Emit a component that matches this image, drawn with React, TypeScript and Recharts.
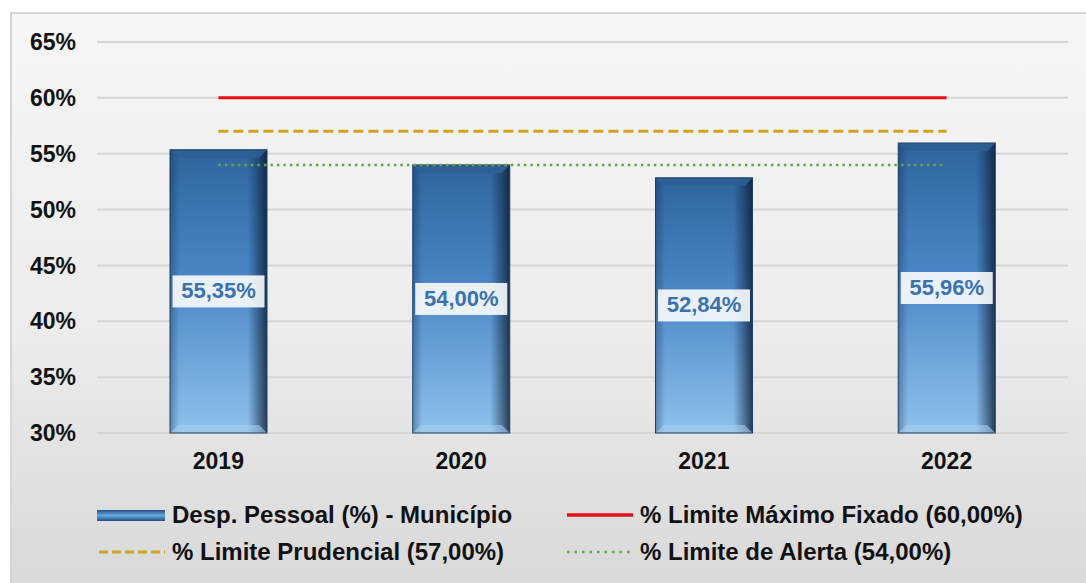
import {
  ComposedChart,
  Bar,
  Line,
  XAxis,
  YAxis,
  CartesianGrid,
  Legend,
  LabelList,
} from "recharts";

const years = ["2019", "2020", "2021", "2022"];
const despPessoal = [55.35, 54.0, 52.84, 55.96];
const limiteMaximo = [60, 60, 60, 60];
const limitePrudencial = [57, 57, 57, 57];
const limiteAlerta = [54, 54, 54, 54];
const yTicks = [30, 35, 40, 45, 50, 55, 60, 65];

const data = years.map((year, i) => ({
  year,
  desp: despPessoal[i],
  maximo: limiteMaximo[i],
  prudencial: limitePrudencial[i],
  alerta: limiteAlerta[i],
}));

const FONT = "Arial, 'Liberation Sans', sans-serif";
const fmt = (v: number) => v.toFixed(2).replace(".", ",") + "%";

const BevelBar = (props: any) => {
  const { x, y, width, height } = props;
  if (!height || height <= 0) return null;
  const b = 8;
  return (
    <g>
      <rect x={x} y={y} width={width} height={height} fill="url(#barVert)" />
      <rect x={x} y={y} width={width} height={height} fill="url(#barHoriz)" />
      <polygon
        points={`${x},${y} ${x + width},${y} ${x + width - b},${y + b} ${x + b},${y + b}`}
        fill="#2d5f94"
        opacity={0.9}
      />
      <polygon
        points={`${x},${y + height} ${x + width},${y + height} ${x + width - b},${y + height - b} ${x + b},${y + height - b}`}
        fill="#a9cdee"
        opacity={0.6}
      />
      <rect x={x} y={y} width={width} height={height} fill="none" stroke="#1d3f63" strokeWidth={1} />
    </g>
  );
};

const ValueLabel = (props: any) => {
  const { x, y, width, height, value } = props;
  const cx = x + width / 2;
  const cy = y + height / 2;
  return (
    <g>
      <rect x={cx - 46} y={cy - 16} width={92} height={32} fill="#ffffff" opacity={0.88} />
      <text
        x={cx}
        y={cy + 1}
        textAnchor="middle"
        dominantBaseline="middle"
        fill="#3b72ad"
        fontSize={22}
        fontWeight="bold"
        fontFamily={FONT}
      >
        {fmt(value)}
      </text>
    </g>
  );
};

const legendItems = [
  { label: "Desp. Pessoal (%) - Município", kind: "bar" },
  { label: "% Limite Máximo Fixado (60,00%)", kind: "solid" },
  { label: "% Limite Prudencial (57,00%)", kind: "dashed" },
  { label: "% Limite de Alerta (54,00%)", kind: "dotted" },
];

const LegendIcon = ({ kind }: { kind: string }) => (
  <svg width={70} height={14} style={{ marginRight: 5, flexShrink: 0 }}>
    {kind === "bar" && <rect x={0} y={2} width={68} height={11} fill="url(#legendBar)" />}
    {kind === "solid" && <line x1={2} y1={7} x2={68} y2={7} stroke="#e81010" strokeWidth={3.5} />}
    {kind === "dashed" && (
      <line x1={2} y1={7} x2={68} y2={7} stroke="#d1a21e" strokeWidth={3} strokeDasharray="9 4" />
    )}
    {kind === "dotted" && (
      <line x1={2} y1={7} x2={68} y2={7} stroke="#6aa14a" strokeWidth={2.5} strokeDasharray="2.5 5" />
    )}
  </svg>
);

const CustomLegend = () => (
  <div
    style={{
      height: 80,
      display: "grid",
      gridTemplateColumns: "468px 510px",
      gridAutoRows: "23px",
      alignContent: "start",
      rowGap: 14,
      paddingLeft: 97,
      paddingTop: 20,
      boxSizing: "border-box",
      fontFamily: FONT,
      fontWeight: "bold",
      fontSize: 24,
      color: "#111",
      whiteSpace: "nowrap",
    }}
  >
    {legendItems.map((it) => (
      <div key={it.label} style={{ display: "flex", alignItems: "center", height: 23 }}>
        <LegendIcon kind={it.kind} />
        <span>{it.label}</span>
      </div>
    ))}
  </div>
);

export default function App() {
  return (
    <div
      style={{
        position: "absolute",
        left: 0,
        top: 0,
        width: 1086,
        height: 583,
        background: "#fff",
      }}
    >
      <div
        style={{
          position: "absolute",
          left: 10,
          top: 12,
          right: 0,
          bottom: 0,
          borderLeft: "2px solid #d6d6d6",
          borderTop: "2px solid #d6d6d6",
          background: "linear-gradient(to bottom, #f6f6f6 0%, #ececec 55%, #d9d9d9 100%)",
        }}
      />
      <ComposedChart
        width={1086}
        height={583}
        data={data}
        margin={{ top: 42, right: 18, left: 0, bottom: 20 }}
        style={{ position: "absolute", left: 0, top: 0 }}
      >
        <defs>
          <linearGradient id="barVert" x1="0" y1="0" x2="0" y2="1">
            <stop offset="0%" stopColor="#2f659e" />
            <stop offset="45%" stopColor="#4a86c6" />
            <stop offset="100%" stopColor="#8fc1ec" />
          </linearGradient>
          <linearGradient id="barHoriz" x1="0" y1="0" x2="1" y2="0">
            <stop offset="0%" stopColor="#0d2440" stopOpacity={0.35} />
            <stop offset="10%" stopColor="#0d2440" stopOpacity={0} />
            <stop offset="80%" stopColor="#0d2440" stopOpacity={0} />
            <stop offset="100%" stopColor="#0b1c30" stopOpacity={0.8} />
          </linearGradient>
          <linearGradient id="legendBar" x1="0" y1="0" x2="0" y2="1">
            <stop offset="0%" stopColor="#1f4f86" />
            <stop offset="50%" stopColor="#6aa7e0" />
            <stop offset="100%" stopColor="#1f4f86" />
          </linearGradient>
        </defs>
        <CartesianGrid vertical={false} stroke="#d6d6d6" strokeWidth={2} />
        <XAxis
          dataKey="year"
          axisLine={false}
          tickLine={false}
          height={50}
          tickMargin={14}
          tick={{ fill: "#111", fontSize: 23, fontWeight: "bold", fontFamily: FONT }}
        />
        <YAxis
          domain={[30, 65]}
          ticks={yTicks}
          width={97}
          axisLine={false}
          tickLine={false}
          tickMargin={15}
          tickFormatter={(v) => `${v}%`}
          tick={{ fill: "#111", fontSize: 23, fontWeight: "bold", fontFamily: FONT }}
        />
        <Legend verticalAlign="bottom" content={<CustomLegend />} wrapperStyle={{ left: 0, width: 1086 }} />
        <Bar dataKey="desp" barSize={97} shape={<BevelBar />} isAnimationActive={false}>
          <LabelList dataKey="desp" content={<ValueLabel />} />
        </Bar>
        <Line dataKey="maximo" stroke="#e81010" strokeWidth={3} dot={false} isAnimationActive={false} />
        <Line
          dataKey="prudencial"
          stroke="#d1a21e"
          strokeWidth={3}
          strokeDasharray="10 5"
          dot={false}
          isAnimationActive={false}
        />
        <Line
          dataKey="alerta"
          stroke="#6aa14a"
          strokeWidth={2.5}
          strokeDasharray="2.5 4"
          dot={false}
          isAnimationActive={false}
        />
      </ComposedChart>
    </div>
  );
}
